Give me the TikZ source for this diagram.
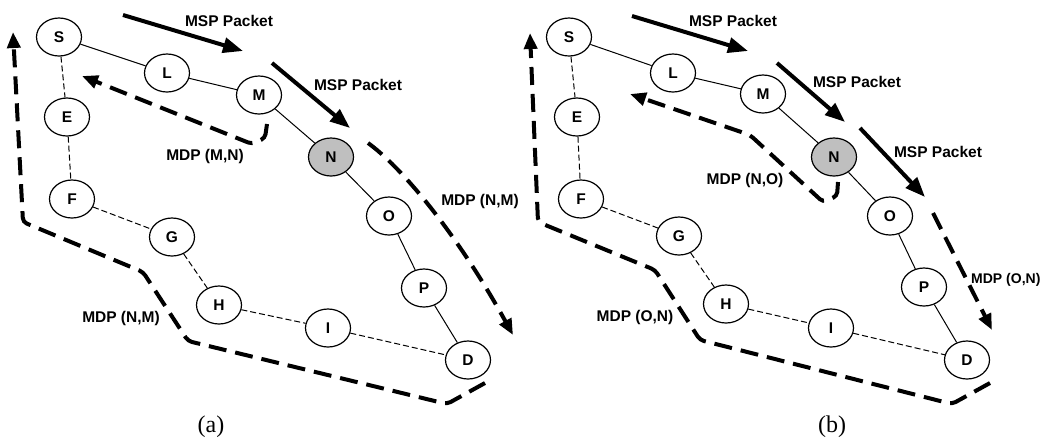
\documentclass[tikz,border=0pt]{standalone}
\usepackage{fontspec}
\setmainfont{Liberation Serif}
\setsansfont{Liberation Sans}
\usetikzlibrary{arrows.meta,shapes.geometric}
\begin{document}
\begin{tikzpicture}[x=1pt,y=-1pt,
  nd/.style={draw, ellipse, line width=1.2pt, minimum width=45pt, minimum height=38pt, inner sep=0pt,
    font=\sffamily\bfseries\fontsize{15.5}{18}\selectfont},
  sl/.style={line width=1pt},
  dl/.style={line width=1pt, dash pattern=on 6pt off 3pt},
  msp/.style={line width=4pt, -{Triangle[length=20pt,width=15pt]}},
  mdp/.style={line width=4pt, dash pattern=on 18pt off 9pt, rounded corners=4pt,
    -{Triangle[length=16pt,width=13pt]}},
  lbl/.style={font=\sffamily\bfseries\fontsize{15.5}{18}\selectfont},
  captxt/.style={font=\fontsize{24}{28}\selectfont}
]
\useasboundingbox (0,0) rectangle (1043,440);

% ---------------- (a) ----------------
\node[nd] (aS) at (59,37) {S};
\node[nd] (aL) at (167,73) {L};
\node[nd] (aM) at (259,95) {M};
\node[nd] (aE) at (67,117) {E};
\node[nd,fill=black!25] (aN) at (331,157) {N};
\node[nd] (aF) at (72,199) {F};
\node[nd] (aO) at (389,216) {O};
\node[nd] (aG) at (172,237) {G};
\node[nd] (aH) at (219,305) {H};
\node[nd] (aP) at (424,288) {P};
\node[nd] (aI) at (328,328) {I};
\node[nd] (aD) at (468,360) {D};

\draw[sl] (aS) -- (aL);
\draw[sl] (aL) -- (aM);
\draw[sl] (aM) -- (aN);
\draw[sl] (aN) -- (aO);
\draw[sl] (aO) -- (aP);
\draw[sl] (aP) -- (aD);
\draw[dl] (aS) -- (aE);
\draw[dl] (aE) -- (aF);
\draw[dl] (aF) -- (aG);
\draw[dl] (aG) -- (aH);
\draw[dl] (aH) -- (aI);
\draw[dl] (aI) -- (aD);

\coordinate (a1s) at (123,15);  \coordinate (a1e) at (243,51);
\coordinate (a2s) at (272,63);  \coordinate (a2e) at (350,128);
\draw[msp] (a1s) -- (a1e);
\node[lbl] (aL1) at (229,21) {MSP Packet};
\draw[msp] (a2s) -- (a2e);
\node[lbl] (aL2) at (358,85) {MSP Packet};

\coordinate (a3s) at (267,124); \coordinate (a3e) at (82,76);
\draw[mdp] (a3s) -- (265,138) -- (252,144) -- (a3e);
\node[lbl] (aL3) at (205,156) {MDP (M,N)};

\coordinate (a4s) at (368,143); \coordinate (a4e) at (513,335);
\draw[mdp] (a4s) .. controls (400,166) and (455,230) .. (a4e);
\node[lbl] (aL4) at (480,201) {MDP (N,M)};

\coordinate (a5s) at (485,383); \coordinate (a5e) at (13,32);
\draw[mdp] (a5s) -- (447,404) -- (188,341) -- (143,272) -- (23,222) -- (a5e);
\node[lbl] (aL5) at (121,318) {MDP (N,M)};

\node[captxt] (acap) at (211,427) {(a)};

% ---------------- (b) ----------------
\node[nd] (bS) at (569,37) {S};
\node[nd] (bL) at (673,73) {L};
\node[nd] (bM) at (763,94) {M};
\node[nd] (bE) at (577,117) {E};
\node[nd,fill=black!25] (bN) at (834,157) {N};
\node[nd] (bF) at (581,199) {F};
\node[nd] (bO) at (890,216) {O};
\node[nd] (bG) at (679,236) {G};
\node[nd] (bH) at (726,304) {H};
\node[nd] (bP) at (924,287) {P};
\node[nd] (bI) at (831,328) {I};
\node[nd] (bD) at (967,360) {D};

\draw[sl] (bS) -- (bL);
\draw[sl] (bL) -- (bM);
\draw[sl] (bM) -- (bN);
\draw[sl] (bN) -- (bO);
\draw[sl] (bO) -- (bP);
\draw[sl] (bP) -- (bD);
\draw[dl] (bS) -- (bE);
\draw[dl] (bE) -- (bF);
\draw[dl] (bF) -- (bG);
\draw[dl] (bG) -- (bH);
\draw[dl] (bH) -- (bI);
\draw[dl] (bI) -- (bD);

\coordinate (b1s) at (632,16);  \coordinate (b1e) at (748,51);
\coordinate (b2s) at (777,63);  \coordinate (b2e) at (845,122);
\coordinate (b3s) at (860,128); \coordinate (b3e) at (925,197);
\draw[msp] (b1s) -- (b1e);
\node[lbl] (bL1) at (733,21) {MSP Packet};
\draw[msp] (b2s) -- (b2e);
\node[lbl] (bL2) at (857,82) {MSP Packet};
\draw[msp] (b3s) -- (b3e);
\node[lbl] (bL3) at (938,152) {MSP Packet};

\coordinate (b4s) at (838,182); \coordinate (b4e) at (630,94);
\draw[mdp] (b4s) -- (837,196) -- (823,202) -- (750,135) -- (b4e);
\node[lbl] (bL4) at (745,180) {MDP (N,O)};

\coordinate (b5s) at (933,213); \coordinate (b5e) at (992,330);
\draw[mdp] (b5s) -- (b5e);
\node[lbl, font=\sffamily\bfseries\fontsize{14}{17}\selectfont, anchor=west, inner sep=0pt] (bL5) at (971,280) {MDP (O,N)};

\coordinate (b6s) at (990,383); \coordinate (b6e) at (530,33);
\draw[mdp] (b6s) -- (952,404) -- (700,340) -- (655,270) -- (538,222) -- (b6e);
\node[lbl] (bL6) at (635,317) {MDP (O,N)};

\node[captxt] (bcap) at (832,427) {(b)};
\end{tikzpicture}
\end{document}
